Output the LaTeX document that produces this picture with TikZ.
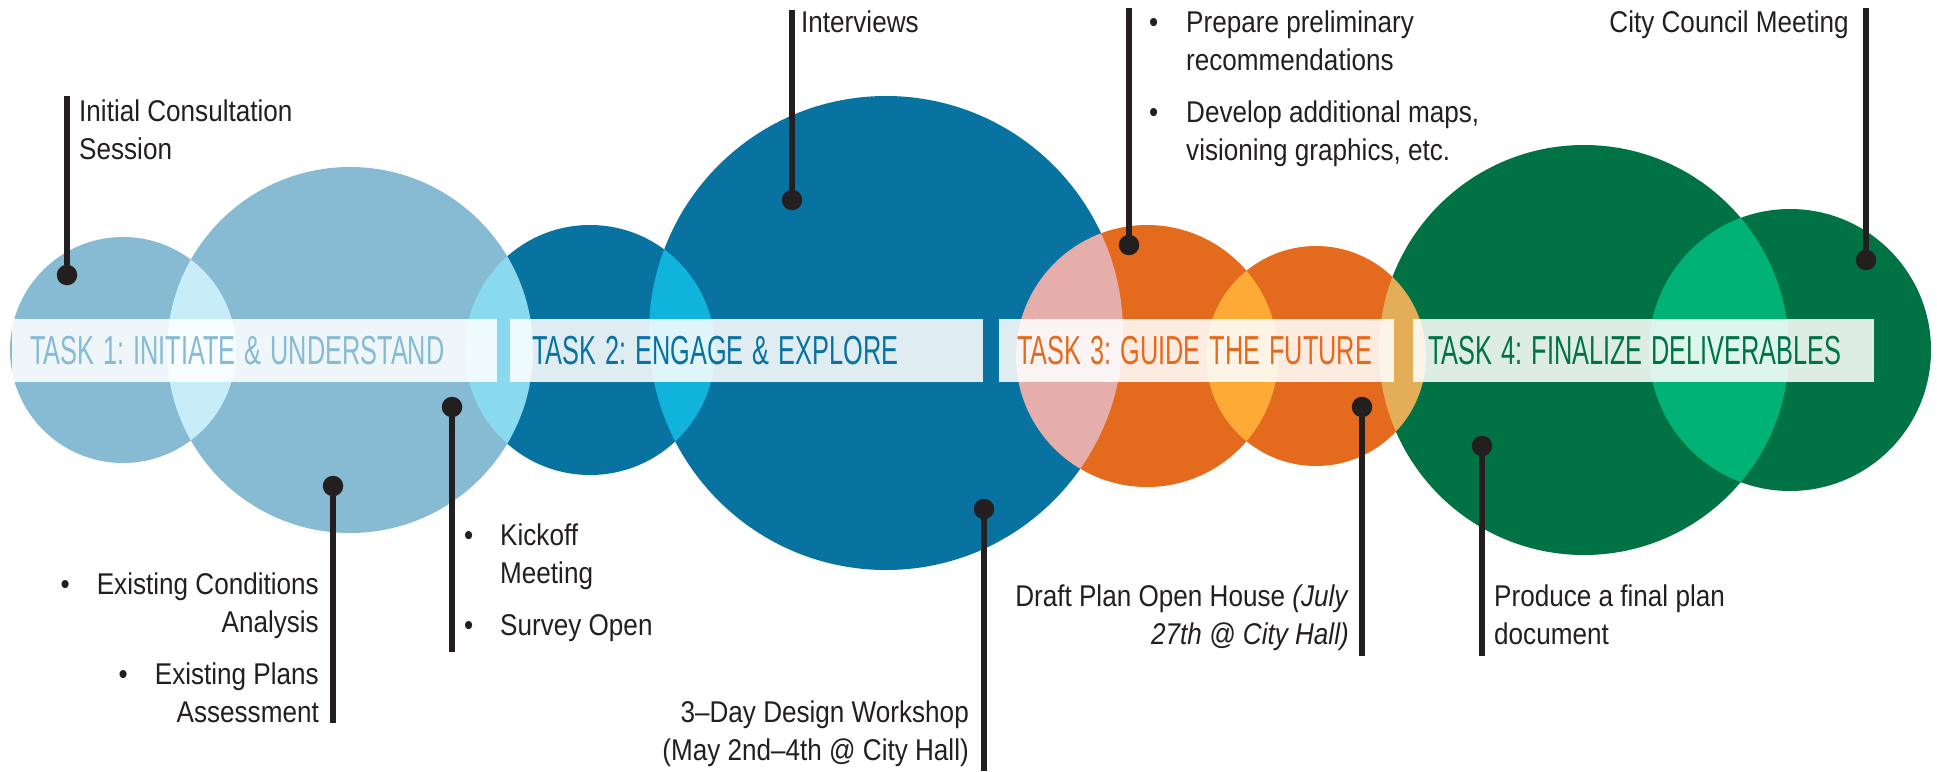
\documentclass[tikz,border=0pt]{standalone}
\usepackage{fontspec}
\setmainfont[FakeStretch=0.87]{Liberation Sans}
\newfontfamily\taskfont[FakeStretch=0.625]{Liberation Sans}
\usepackage{tikz}
\usepackage{color}

\definecolor{taskone}{HTML}{86BBD3}
\definecolor{tasktwo}{HTML}{0873A0}
\definecolor{taskthree}{HTML}{E46B1D}
\definecolor{taskfour}{HTML}{007243}
\definecolor{pinc}{HTML}{231F20}

% task titles: one line, narrow word spaces
\newcommand{\tasktitle}[1]{\mbox{\frenchspacing\spaceskip=9pt\relax #1}}

\begin{document}
\begin{tikzpicture}[x=1pt, y=-1pt,
    taskband/.style={fill=white, fill opacity=0.87, text opacity=1, anchor=west,
        minimum height=63pt, inner ysep=0pt, inner xsep=18pt, align=left,
        font=\taskfont\fontsize{40.5}{40.5}\selectfont},
    pindot/.style={circle, fill=pinc, inner sep=0pt, minimum size=20.5pt},
    pinline/.style={pinc, line width=5.5pt},
    notetext/.style={text=pinc, inner sep=0pt, font=\fontsize{30}{38}\selectfont}]
    \useasboundingbox (0,0) rectangle (1937,771);

    % Circles (screen blended)
    \begin{scope}[blend group=screen]
        \foreach \cx/\cy/\r/\col in {123/350/113/taskone, 350/350/183/taskone,
            590/350/125/tasktwo, 886/333/237/tasktwo,
            1147/356/131/taskthree, 1316/356/110/taskthree,
            1584/350/205/taskfour, 1790/350/141/taskfour}
            \fill[\col] (\cx,\cy) circle (\r pt);
    \end{scope}

    % Task bands
    \node[taskband, text=taskone, text width=449pt] (task1) at (12,350.5) {\tasktitle{TASK 1: INITIATE \& UNDERSTAND}};
    \node[taskband, text=tasktwo, text width=429pt, inner xsep=22pt] (task2) at (510,350.5) {\tasktitle{TASK 2: ENGAGE \& EXPLORE}};
    \node[taskband, text=taskthree, text width=359pt] (task3) at (999,350.5) {\tasktitle{TASK 3: GUIDE THE FUTURE}};
    \node[taskband, text=taskfour, text width=431pt, inner xsep=15pt] (task4) at (1413,350.5) {\tasktitle{TASK 4: FINALIZE DELIVERABLES}};

    % Pins
    \foreach \name/\px/\py/\ey in {initial/67/275/96, existing/333/486/723,
        kickoff/452/407/652, interviews/792/200/10, workshop/984/509/771,
        prepare/1129/245/8, openhouse/1362/407/656, finalplan/1482/446/656,
        council/1866/260/8} {
        \node[pindot] (dot\name) at (\px,\py) {};
        \coordinate (end\name) at (\px,\ey);
        \draw[pinline] (dot\name) -- (end\name);
    }

    % Notes
    \node[notetext, anchor=north west, align=left] (initialtext) at (79,100)
        {Initial Consultation\\Session};
    \node[notetext, anchor=north east, align=right] (existingtext) at (319,573)
        {\textbullet\hspace{27pt}Existing Conditions\\Analysis\\[14pt]\textbullet\hspace{27pt}Existing Plans\\Assessment};
    \node[notetext, anchor=north west, align=left] (kickofftext) at (464,524)
        {\makebox[36pt][l]{\textbullet}Kickoff\\\hspace*{36pt}Meeting\\[14pt]\makebox[36pt][l]{\textbullet}Survey Open};
    \node[notetext, anchor=north west, align=left] (interviewstext) at (801,11)
        {Interviews};
    \node[notetext, anchor=north east, align=right] (workshoptext) at (969,701)
        {3--Day Design Workshop\\(May 2nd--4th @ City Hall)};
    \node[notetext, anchor=north west, align=left] (preparetext) at (1149,11)
        {\makebox[37pt][l]{\textbullet}Prepare preliminary\\\hspace*{37pt}recommendations\\[14pt]\makebox[37pt][l]{\textbullet}Develop additional maps,\\\hspace*{37pt}visioning graphics, etc.};
    \node[notetext, anchor=north east, align=right] (openhousetext) at (1349,585)
        {Draft Plan Open House \textit{(July}\\\textit{27th @ City Hall)}};
    \node[notetext, anchor=north west, align=left] (finalplantext) at (1494,585)
        {Produce a final plan\\document};
    \node[notetext, anchor=north east, align=right] (counciltext) at (1849,11)
        {City Council Meeting};
\end{tikzpicture}
\end{document}
